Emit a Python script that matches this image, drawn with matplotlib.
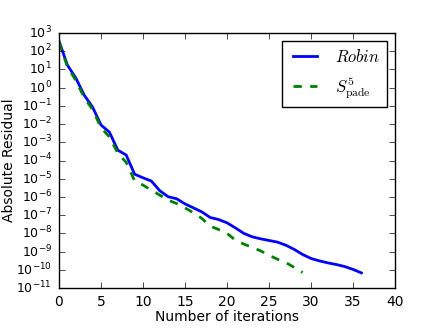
import matplotlib
matplotlib.use("Agg")
import matplotlib.pyplot as plt
import matplotlib.ticker as mticker
import numpy as np

plt.style.use('classic')
plt.rcParams['mathtext.fontset'] = 'cm'
plt.rcParams['axes.unicode_minus'] = False

robin_log = [2.56, 1.24, 0.53, -0.41, -1.07, -2.05, -2.44, -3.43, -3.70, -4.75,
             -4.95, -5.13, -5.66, -5.99, -6.10, -6.38, -6.60, -6.82, -7.13, -7.24,
             -7.42, -7.70, -8.00, -8.19, -8.30, -8.39, -8.48, -8.65, -8.88, -9.16,
             -9.38, -9.51, -9.62, -9.71, -9.82, -9.98, -10.17]
pade_log = [2.50, 1.15, 0.40, -0.55, -1.20, -2.20, -2.70, -3.60, -4.10, -5.11,
            -5.35, -5.63, -5.90, -6.18, -6.36, -6.60, -6.87, -7.18, -7.60, -7.79,
            -8.00, -8.37, -8.59, -8.77, -8.96, -9.20, -9.42, -9.60, -9.87, -10.15]

robin = 10.0 ** np.array(robin_log)
pade = 10.0 ** np.array(pade_log)
it_r = np.arange(len(robin))
it_p = np.arange(len(pade))

fig = plt.figure(figsize=(4.39, 3.29), dpi=100)
ax = fig.add_axes([59/439, 1-288/329, 336/439, 255/329])
ax.semilogy(it_r, robin, 'b-', lw=2, label=r'$Robin$')
ax.semilogy(it_p, pade, 'g--', lw=2, label=r'$S^5_{\mathrm{pade}}$')
ax.set_xlim(0, 40)
ax.set_ylim(1e-11, 1e3)
ax.yaxis.set_major_locator(mticker.LogLocator(base=10, numticks=20))
ax.yaxis.set_minor_locator(mticker.NullLocator())
ax.set_xlabel('Number of iterations', fontsize=10, labelpad=1)
ax.set_ylabel('Absolute Residual', fontsize=10)
ax.yaxis.set_label_coords(-0.128, 0.5)
ax.tick_params(axis='x', labelsize=10, pad=5)
ax.tick_params(axis='y', labelsize=9, pad=5)
ax.legend(loc='upper right', fontsize=12)
fig.savefig('out.png', dpi=100)
